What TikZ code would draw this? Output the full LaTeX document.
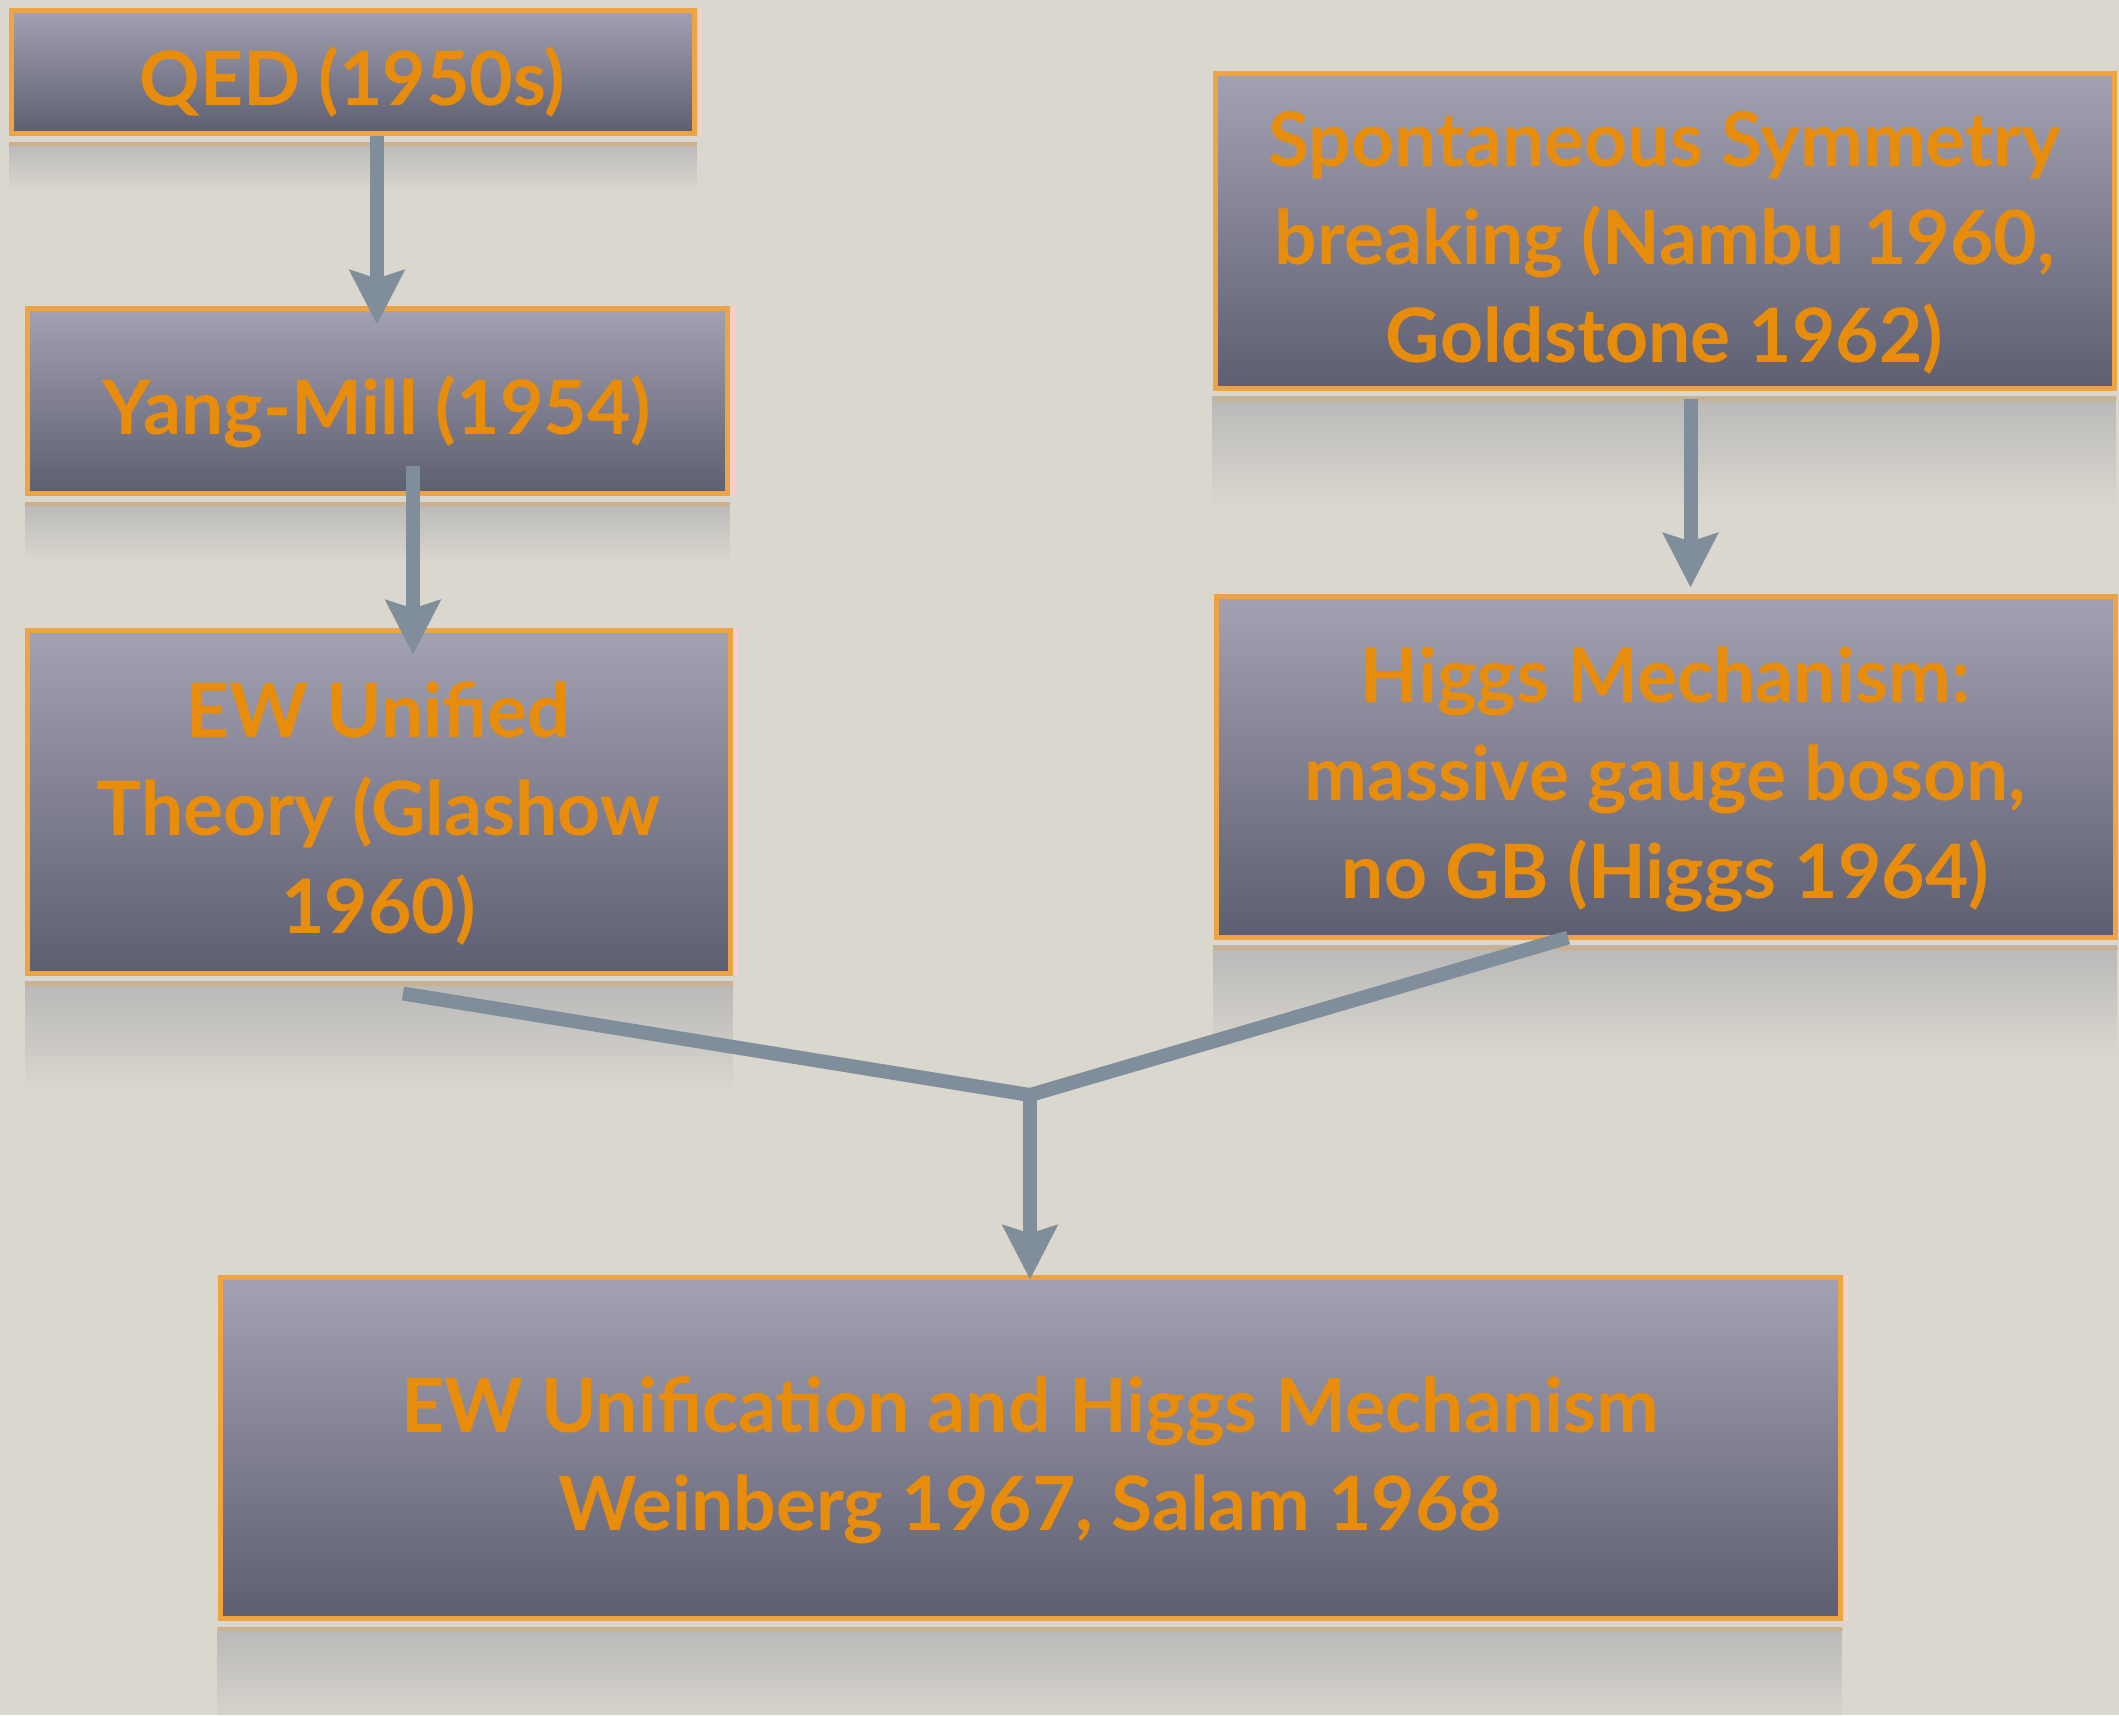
\documentclass[tikz,border=0pt]{standalone}
\usepackage{fontspec}
\setmainfont{Lato}
\usetikzlibrary{arrows.meta,fadings,calc}
\definecolor{bgcol}{RGB}{218,215,207}
\definecolor{boxtop}{RGB}{162,162,178}
\definecolor{boxbot}{RGB}{94,94,114}
\definecolor{boxedge}{RGB}{240,163,66}
\definecolor{txtcol}{RGB}{232,140,12}
\definecolor{arrowcol}{RGB}{128,141,155}
\definecolor{reflcol}{RGB}{160,160,165}
\tikzfading[name=reflfade, top color=transparent!45, bottom color=transparent!100]
\newcommand\boxtxt[1]{\raisebox{-7pt}[\height][\depth]{\begin{tabular}{@{}c@{}}#1\end{tabular}}}
\begin{document}
\begin{tikzpicture}[x=0.5pt,y=-0.5pt,
  box/.style={draw=boxedge, line width=2.5pt, top color=boxtop, bottom color=boxbot,
    text=txtcol, align=center, inner sep=0pt,
    font=\fontsize{37.5}{49}\selectfont\bfseries},
  conn/.style={draw=arrowcol, line width=7pt, -{Stealth[length=27pt,width=27pt,inset=4pt]}},
  link/.style={draw=arrowcol, line width=7pt, line join=miter}]
\fill[bgcol] (0,0) rectangle (2119,1715);
\useasboundingbox (0,0) rectangle (2119,1715);

\node[box, minimum width=341.5pt, minimum height=61.5pt] (qed) at (352.5,71.5) {\boxtxt{QED (1950s)}};
\node[box, minimum width=350pt, minimum height=92.5pt] (ym) at (377,400.5) {\boxtxt{Yang-Mill (1954)}};
\node[box, minimum width=351.5pt, minimum height=171.5pt] (ew) at (378.5,801.5) {\boxtxt{EW Unified\\Theory (Glashow\\1960)}};
\node[box, minimum width=449.5pt, minimum height=157.5pt] (ssb) at (1664.5,230.5) {\boxtxt{Spontaneous Symmetry\\breaking (Nambu 1960,\\Goldstone 1962)}};
\node[box, minimum width=449.5pt, minimum height=170.5pt] (higgs) at (1665.5,766.5) {\boxtxt{Higgs Mechanism:\\massive gauge boson,\\no GB (Higgs 1964)}};
\node[box, minimum width=810pt, minimum height=170.5pt] (bot) at (1030,1447.5) {\boxtxt{EW Unification and Higgs Mechanism\\Weinberg 1967, Salam 1968}};

% reflections and pink right edges
\foreach \n/\h in {qed/50,ym/60,ew/110,ssb/110,higgs/110,bot/100}{
  \fill[reflcol, path fading=reflfade] ([yshift=-3pt]\n.south west) rectangle ([yshift=-3pt-\h*0.5pt]\n.south east);
  \draw[boxedge, opacity=0.35, line width=2pt] ([yshift=-4pt]\n.south west) -- ([yshift=-4pt]\n.south east);
  \draw[pink!80, line width=1.5pt] ([xshift=2pt]\n.north east) -- ([xshift=2pt]\n.south east);
}

\draw[conn] (qed.south -| ym.north) -- ([yshift=-9.5pt]ym.north);
\draw[conn] ([xshift=18pt,yshift=15pt]ym.south) coordinate (a2) -- ($(ew.north -| a2)+(0,-13.5pt)$);
\draw[conn] ([xshift=13pt,yshift=-4pt]ssb.south) coordinate (a3) -- ($(higgs.north -| a3)+(0,3pt)$);

\coordinate (J) at (1030,1095);
\draw[link] ([xshift=12.25pt,yshift=-9pt]ew.south) -- (J) -- ([xshift=-48.75pt,yshift=1pt]higgs.south);
\draw[conn] ([yshift=2pt]J) -- ([yshift=-2.5pt]bot.north);
\end{tikzpicture}
\end{document}
